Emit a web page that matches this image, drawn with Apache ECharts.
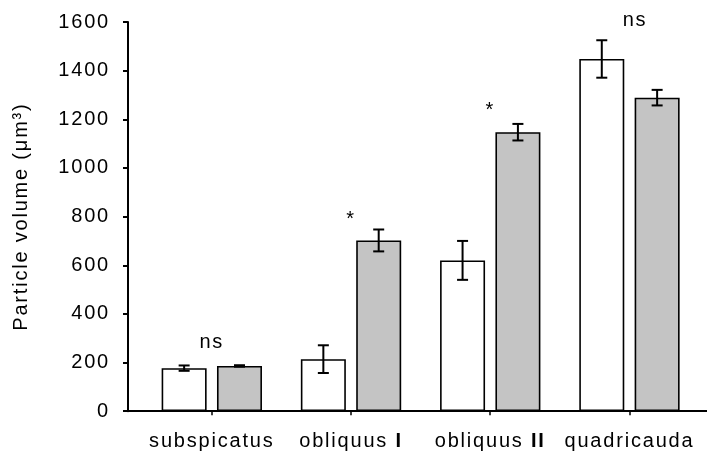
<!DOCTYPE html>
<html>
<head>
<meta charset="utf-8">
<script src="https://cdn.jsdelivr.net/npm/echarts@6/dist/echarts.min.js"></script>
<style>
  html, body { margin: 0; padding: 0; background: #fff; }
  #chart { width: 707px; height: 452px; }
</style>
</head>
<body>
<div id="chart"></div>
<script>
// Slightly tracked-out lettering for every text run drawn on the canvas
(function () {
  var P = CanvasRenderingContext2D.prototype;
  ['fillText', 'strokeText', 'measureText'].forEach(function (fn) {
    var orig = P[fn];
    P[fn] = function () {
      if ('letterSpacing' in this) this.letterSpacing = '1.8px';
      return orig.apply(this, arguments);
    };
  });
})();

// Species (x categories)
var categories = ['subspicatus', 'obliquus I', 'obliquus II', 'quadricauda'];

// Mean particle volume (µm³) and standard error, two treatments
var openMeans = [177, 214, 620, 1448];
var openErrors = [11, 57, 80, 77];
var greyMeans = [186, 702, 1147, 1289];
var greyErrors = [3, 45, 34, 32];

// Significance annotations: [category index, height, text]
var marks = [
  [0, 281, 'ns'],
  [1, 789, '*'],
  [2, 1235, '*'],
  [3.04, 1605, 'ns']
];

// Y axis ticks
var yMin = 0, yMax = 1600, yStep = 200;

var BAR_W = 45;
var BAR_GAP = 0.23;
var OFFSET = (BAR_W + BAR_W * BAR_GAP) / 2;
var FONT = '"Liberation Sans", Arial, sans-serif';

function barData(vals) {
  return vals.map(function (v, i) { return [i, v]; });
}
function errData(vals, errs) {
  return vals.map(function (v, i) { return [i, v - errs[i], v + errs[i]]; });
}
function errorRenderer(shift) {
  return function (params, api) {
    var lo = api.coord([api.value(0), api.value(1)]);
    var hi = api.coord([api.value(0), api.value(2)]);
    var x = lo[0] + shift;
    var cap = 5.5;
    var style = { stroke: '#000', lineWidth: 2 };
    return {
      type: 'group',
      children: [
        { type: 'line', shape: { x1: x, y1: lo[1], x2: x, y2: hi[1] }, style: style },
        { type: 'line', shape: { x1: x - cap, y1: lo[1], x2: x + cap, y2: lo[1] }, style: style },
        { type: 'line', shape: { x1: x - cap, y1: hi[1], x2: x + cap, y2: hi[1] }, style: style }
      ]
    };
  };
}

var chart = echarts.init(document.getElementById('chart'), null, { renderer: 'canvas' });
chart.setOption({
  animation: false,
  backgroundColor: '#fff',
  textStyle: { fontFamily: FONT, color: '#000' },
  grid: { left: 128, right: 0, top: 22, bottom: 40.5, containLabel: false },
  xAxis: {
    type: 'value',
    min: -0.602,
    max: 3.557,
    splitLine: { show: false },
    axisLine: { show: true, onZero: false, lineStyle: { color: '#000', width: 2 } },
    axisTick: { show: true, customValues: [0, 1, 2, 3], length: 4, lineStyle: { color: '#000', width: 1.5 } },
    axisLabel: {
      customValues: [0, 1, 2, 3],
      margin: 19,
      fontSize: 20,
      fontFamily: FONT,
      color: '#000',
      formatter: function (v) {
        var name = categories[Math.round(v)] || '';
        return name.replace(/ (I+)$/, ' {b|$1}');
      },
      rich: { b: { fontWeight: 'bold', fontSize: 20, fontFamily: FONT, color: '#000' } }
    }
  },
  yAxis: {
    type: 'value',
    min: yMin,
    max: yMax,
    interval: yStep,
    name: 'Particle volume (μm³)',
    nameLocation: 'middle',
    nameRotate: 90,
    nameGap: 96,
    nameTextStyle: { fontSize: 20, fontFamily: FONT, color: '#000' },
    splitLine: { show: false },
    axisLine: { show: true, onZero: false, lineStyle: { color: '#000', width: 2 } },
    axisTick: { show: true, length: 5, lineStyle: { color: '#000', width: 2 } },
    axisLabel: {
      margin: 18, fontSize: 20, fontFamily: FONT, color: '#000',
      formatter: function (v) { return String(v); }
    }
  },
  series: [
    {
      type: 'bar',
      data: barData(openMeans),
      barWidth: BAR_W,
      barGap: (BAR_GAP * 100) + '%',
      itemStyle: { color: '#fff', borderColor: '#000', borderWidth: 1.6 }
    },
    {
      type: 'bar',
      data: barData(greyMeans),
      barWidth: BAR_W,
      itemStyle: { color: '#c4c4c4', borderColor: '#000', borderWidth: 1.6 }
    },
    {
      type: 'custom',
      renderItem: errorRenderer(-OFFSET),
      data: errData(openMeans, openErrors),
      encode: { x: 0, y: [1, 2] },
      z: 5
    },
    {
      type: 'custom',
      renderItem: errorRenderer(OFFSET),
      data: errData(greyMeans, greyErrors),
      encode: { x: 0, y: [1, 2] },
      z: 5
    },
    {
      type: 'scatter',
      symbolSize: 0,
      clip: false,
      silent: true,
      itemStyle: { opacity: 1 },
      data: marks.map(function (m) { return { value: [m[0], m[1]], name: m[2] }; }),
      label: {
        show: true,
        position: 'inside',
        formatter: '{b}',
        fontSize: 20,
        fontFamily: FONT,
        color: '#000',
        opacity: 1
      },
      z: 6
    }
  ]
});
</script>
</body>
</html>
